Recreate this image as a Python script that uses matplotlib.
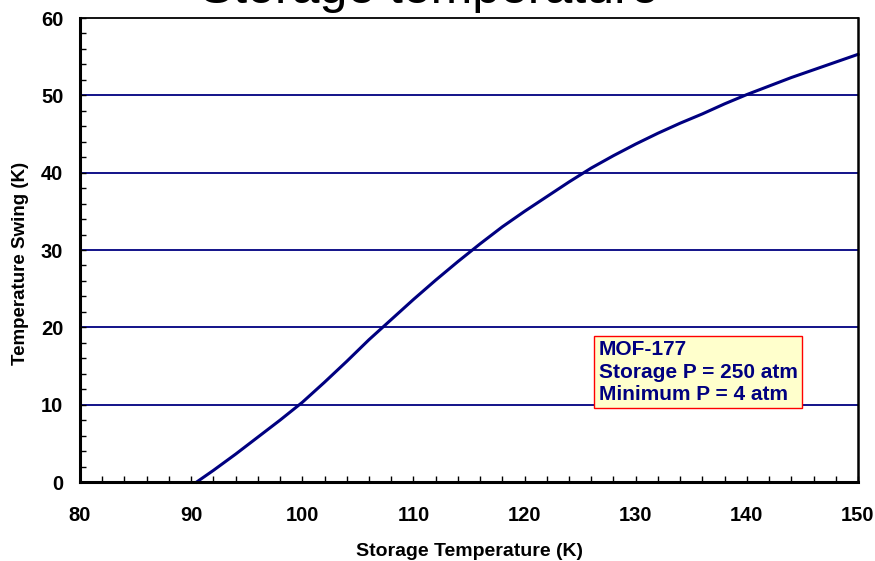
import matplotlib
matplotlib.use("Agg")
import matplotlib.pyplot as plt
from matplotlib.ticker import MultipleLocator

plt.rcParams['font.family'] = ['Liberation Sans', 'DejaVu Sans']

# storage temperature (K) vs temperature swing (K)
storage_temp = [90.5, 92, 94, 96, 98, 100, 102, 104, 106, 108, 110, 112, 114, 116,
                118, 120, 122, 124, 126, 128, 130, 132, 134, 136, 138, 140, 142,
                144, 146, 148, 150]
temp_swing = [0.0, 1.5, 3.6, 5.8, 8.0, 10.3, 12.9, 15.6, 18.4, 21.0, 23.6, 26.1,
              28.5, 30.8, 33.0, 35.0, 36.9, 38.8, 40.6, 42.2, 43.7, 45.1, 46.4,
              47.6, 48.9, 50.1, 51.2, 52.3, 53.3, 54.3, 55.3]
x_ticks = [80, 90, 100, 110, 120, 130, 140, 150]
y_ticks = [0, 10, 20, 30, 40, 50, 60]
note_lines = ["MOF-177", "Storage P = 250 atm", "Minimum P = 4 atm"]

navy = "#000080"

fig = plt.figure(figsize=(8.75, 5.61), dpi=100)
ax = fig.add_axes([80 / 875, 1 - 482 / 561, 778 / 875, 464 / 561])

for y in y_ticks[1:-1]:
    ax.axhline(y, color=navy, linewidth=1.3, zorder=1)

ax.plot(storage_temp, temp_swing, color=navy, linewidth=2.2, zorder=3, clip_on=False)

ax.set_xlim(80, 150)
ax.set_ylim(0, 60)
ax.set_xticks(x_ticks)
ax.set_yticks(y_ticks)
ax.xaxis.set_minor_locator(MultipleLocator(2))
ax.yaxis.set_minor_locator(MultipleLocator(2))
ax.tick_params(axis='both', which='both', direction='in', top=False, right=False,
               width=1.0, color='black', length=4.5)
ax.tick_params(axis='both', which='major', labelsize=14.5)
ax.tick_params(axis='x', which='major', pad=17)
ax.tick_params(axis='y', which='major', pad=12)
for lbl in ax.get_xticklabels() + ax.get_yticklabels():
    lbl.set_fontweight('bold')

for side in ['left', 'bottom']:
    ax.spines[side].set_linewidth(2.2)
ax.spines['right'].set_linewidth(1.8)
ax.spines['top'].set_linewidth(1.3)
for s in ax.spines.values():
    s.set_color('black')
    s.set_zorder(4)

ax.set_xlabel("Storage Temperature (K)", fontsize=14, fontweight='bold', labelpad=13.5)
ax.set_ylabel("Temperature Swing (K)", fontsize=13.5, fontweight='bold')
ax.yaxis.set_label_coords(-0.0656, 0.47)

ax.text(0.667, 0.237, "\n".join(note_lines), transform=ax.transAxes,
        fontsize=15, fontweight='bold', color=navy, va='center', ha='left',
        linespacing=1.22, zorder=5,
        bbox=dict(boxstyle='square,pad=0.22', facecolor='#FFFFCC', edgecolor='red',
                  linewidth=1.0))

# title sits mostly above the saved area, as in the original slide
fig.text(0.49, 1 - 3 / 561, "Storage temperature", fontsize=36, ha='center',
         va='baseline', color='black')

fig.savefig("out.png", dpi=100)
